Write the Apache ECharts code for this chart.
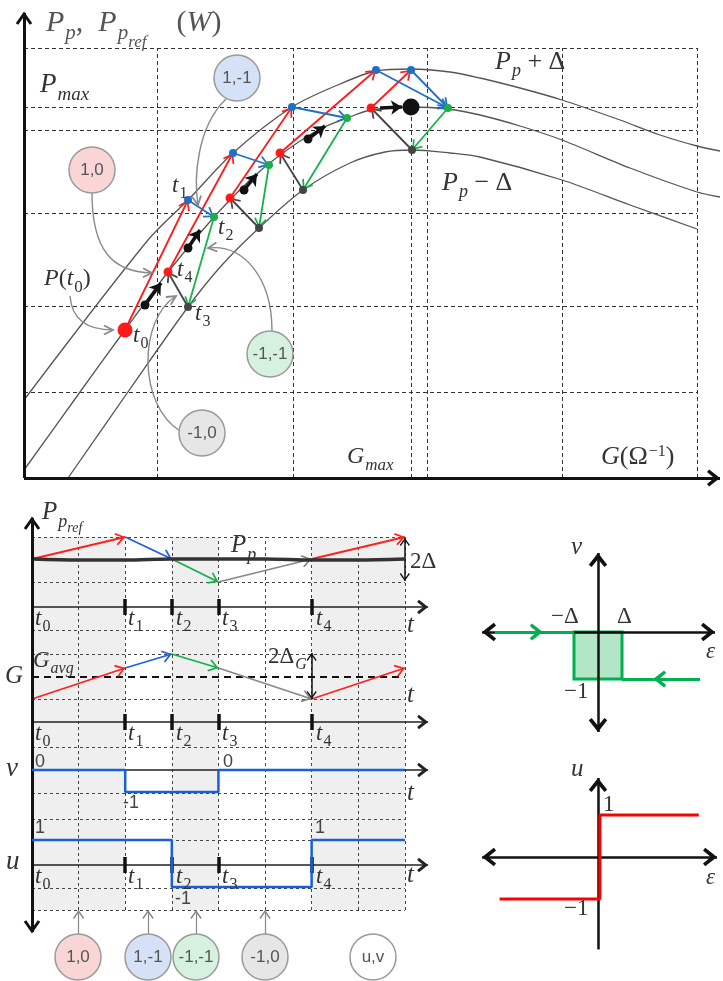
<!DOCTYPE html>
<html>
<head>
<meta charset="utf-8">
<script src="https://cdn.jsdelivr.net/npm/echarts@6/dist/echarts.min.js"></script>
<style>
  html, body { margin: 0; padding: 0; background: #fff; }
  #main { width: 723px; height: 981px; }
</style>
</head>
<body>
<div id="main"></div>
<script>
// ===== top panel : P(G) curves (arbitrary units G, P) =====
var curveUp = [[0,78],[124,238],[164,278],[209,325],[268,371],[316,394],[352,407],[387,409],[426,406],[456,400],[496,390],[538,378],[596,358],[636,343],[673,332],[696,327]];
var curveMid = [[0,8],[56,86],[101,148],[144,206],[190,261],[226,298],[256,323],[296,349],[323,360],[347,368],[387,371],[424,369],[456,363],[496,352],[538,338],[606,310],[673,286],[696,281]];
var curveLow = [[44,0],[106,89],[164,171],[198,213],[235,250],[279,288],[326,315],[361,326],[388,328],[426,325],[456,321],[538,298],[606,273],[673,249]];
var gridG = [133, 269, 403, 538, 673];
var gridP = [86, 172, 265, 348, 371, 430];
var gMax = 387;
// steps [G0, P0, G1, P1]
var stepRed = [[101,148,164,278],[144,206,209,325],[206,280,268,371],[256,325,352,408],[347,370,387,408]];
var stepBlue = [[164,278,190,261],[209,325,245,313],[268,371,323,360],[352,408,424,370],[387,408,424,370]];
var stepGreen = [[190,261,164,171],[245,313,235,250],[323,360,279,288],[424,370,388,328]];
var stepGray = [[164,171,144,206],[235,250,206,280],[279,288,256,325],[388,328,347,370]];
var stepBlack = [[121,173,137,195],[164,230,176,248],[220,288,233,304],[284,339,301,352],[356,370,378,371]];
var dotsBlue = [[164,278],[209,325],[268,371],[352,408],[387,408]];
var dotsGreen = [[190,261],[245,313],[323,360],[424,370]];
var dotsRed = [[144,206],[206,280],[256,325],[347,370]];
var dotsGray = [[164,171],[235,250],[279,288],[388,328]];
var dotsBlack = [[121,173],[164,230],[220,288],[284,339]];
var pStart = [[101,148]];
var pOpt = [[387,371]];

// ===== bottom-left : time diagrams (t in steps, y in rows) =====
var tGrid = [1, 2, 3, 4, 5, 6, 7, 8];
var tTicks = [2, 3, 4, 6];           // t1, t2, t3, t4
var rowLines = [25, 47, 95, 116, 142, 188, 236, 281, 305, 353, 398];
var shadeSpans = [[0, 2], [3, 4], [6, 8]];
var tAxes = [328, 213, 165, 70];
var tickAxes = [328, 213, 70];
var prefRed = [[0,376,2,398],[6,376,8,398]];
var prefBlue = [[2,398,3,376]];
var prefGreen = [[3,376,4,353]];
var prefGray = [[4,353,6,376]];
var ppLine = [[0,376],[1,375],[2,375],[3,376],[4,376],[5,376],[6,375],[7,375],[8,376]];
var gRed = [[0,236,2,267],[6,236,8,267]];
var gBlue = [[2,267,3,281]];
var gGreen = [[3,281,4,267]];
var gGray = [[4,267,6,236]];
var gAvg = 258;
var vStep = [[0,165],[2,165],[2,143],[4,143],[4,165],[8,165]];
var uStep = [[0,95],[3,95],[3,48],[6,48],[6,95],[8,95]];
var twoDelta = [[8,397,8,354]];
var twoDeltaG = [[6,282,6,236]];
var bubbleT = [1, 2.49, 3.52, 5];

// ===== right : hysteresis relay v(eps) and sign relay u(eps) =====
var vIn = [[-4.3,0,-2.3,0]], vInTail = [[-2.3,0,-1,0]];
var vBack = [[4.25,-1,2.3,-1]], vBackTail = [[2.3,-1,1,-1]];
var vBox = [-1, 1, 0, -1];
var uRelay = [[-4.1,-1],[0.08,-1],[0.08,1],[4.2,1]];

var chart = echarts.init(document.getElementById('main'));
// open arrow heads, tip at the centre of a square box
var BOX = 'M0,-10L0.01,-10L0,-9.99Z M-10,0L-9.99,0L-10,0.01Z M10,0L9.99,0L10,0.01Z';
var CHEV = 'path://M0,0L6.3,9L5,10.2L0,3L-5,10.2L-6.3,9Z ' + BOX;
var CHEVB = 'path://M0,0L6.6,8.4L4.6,10L0,4.4L-4.6,10L-6.6,8.4Z ' + BOX;

function segs(list) {
  return list.map(function (a) { return { coords: [[a[0], a[1]], [a[2], a[3]]] }; });
}
function lines(g, list, color, width, ends, size, dash, z) {
  return {
    type: 'lines', coordinateSystem: 'cartesian2d', xAxisIndex: g, yAxisIndex: g,
    data: segs(list), symbol: ends || 'none', symbolSize: size || 18, silent: true, clip: false,
    lineStyle: { color: color, width: width, type: dash || 'solid', opacity: 1 },
    z: z || 4, animation: false
  };
}
function dots(g, data, color, size, z) {
  return {
    type: 'scatter', xAxisIndex: g, yAxisIndex: g, data: data, symbolSize: size, clip: false,
    itemStyle: { color: color, opacity: 1 }, silent: true, z: z || 6
  };
}
function curve(g, data, color, width, z) {
  return {
    type: 'line', xAxisIndex: g, yAxisIndex: g, data: data, smooth: 0.3, showSymbol: false,
    lineStyle: { color: color, width: width }, silent: true, z: z || 3
  };
}

// grid line segment lists
var topDash = [];
gridG.forEach(function (x) { topDash.push([x, 0, x, 430]); });
gridP.forEach(function (y) { topDash.push([0, y, 673, y]); });
topDash.push([gMax, 0, gMax, 371]);

var blDash = [];
tGrid.forEach(function (t) { blDash.push([t, 25, t, 398]); });
rowLines.forEach(function (y) { blDash.push([0, y, 8, y]); });
var blAxes = tAxes.map(function (y) { return [0, y, 8.5, y]; });
var blTicks = [];
tickAxes.forEach(function (y) { tTicks.forEach(function (t) { blTicks.push([t, y - 8, t, y + 8]); }); });
var bubbleArrows = bubbleT.map(function (t) { return [t, 1, t, 25]; });

var series = [
  // ---- top ----
  lines(0, topDash, '#333', 1, 'none', 0, [4, 3], 2),
  curve(0, curveUp, '#555', 1.3),
  curve(0, curveMid, '#555', 1.3),
  curve(0, curveLow, '#555', 1.3),
  lines(0, stepRed, '#ff1a1a', 1.8, ['none', CHEV], 20),
  lines(0, stepBlue, '#1f6fc8', 1.8, ['none', CHEV], 20),
  lines(0, stepGreen, '#18b04a', 1.8, ['none', CHEV], 20),
  lines(0, stepGray, '#444', 1.8, ['none', CHEV], 20),
  lines(0, stepBlack, '#111', 3.5, ['none', 'arrow'], 11),
  lines(0, [[0, 0, 0, 465]], '#111', 3, 'none', 0, 'solid', 5),
  lines(0, [[0, 0, 696, 0]], '#111', 3, ['none', CHEVB], 26, 'solid', 5),
  dots(0, dotsBlue, '#1f6fc8', 8),
  dots(0, dotsGreen, '#18b04a', 8),
  dots(0, dotsRed, '#ff1a1a', 9),
  dots(0, dotsGray, '#444', 8),
  dots(0, dotsBlack, '#111', 9),
  dots(0, pStart, '#ff1a1a', 15),
  dots(0, pOpt, '#111', 17),
  // ---- bottom-left ----
  {
    type: 'line', xAxisIndex: 1, yAxisIndex: 1, data: [[0, 25]], showSymbol: false,
    lineStyle: { opacity: 0 }, silent: true, z: 1,
    markArea: {
      silent: true, itemStyle: { color: '#efefef' },
      data: shadeSpans.map(function (s) { return [{ coord: [s[0], 25] }, { coord: [s[1], 398] }]; })
    }
  },
  lines(1, blDash, '#444', 1, 'none', 0, [3, 3], 2),
  lines(1, blAxes, '#222', 1.6, ['none', CHEVB], 22, 'solid', 3),
  lines(1, blTicks, '#111', 3.5, 'none', 0, 'solid', 5),
  lines(1, [[0, 3, 0, 417]], '#111', 3, 'none', 0, 'solid', 5),
  curve(1, ppLine, '#333', 3.5, 4),
  lines(1, [[0, gAvg, 8, gAvg]], '#111', 2, 'none', 0, [7, 5], 4),
  lines(1, prefRed, '#ff2020', 1.8, ['none', CHEV], 20),
  lines(1, prefBlue, '#1f5fe0', 1.8, ['none', CHEV], 20),
  lines(1, prefGreen, '#15b048', 1.8, ['none', CHEV], 20),
  lines(1, prefGray, '#888', 1.8, ['none', CHEV], 20),
  lines(1, gRed, '#ff2020', 1.8, ['none', CHEV], 20),
  lines(1, gBlue, '#1f5fe0', 1.8, ['none', CHEV], 20),
  lines(1, gGreen, '#15b048', 1.8, ['none', CHEV], 20),
  lines(1, gGray, '#888', 1.8, ['none', CHEV], 20),
  lines(1, twoDelta, '#111', 1.5, [CHEV, CHEV], 16),
  lines(1, twoDeltaG, '#111', 1.5, [CHEV, CHEV], 16),
  lines(1, bubbleArrows, '#888', 1.2, ['none', CHEV], 18),
  {
    type: 'line', xAxisIndex: 1, yAxisIndex: 1, data: vStep, showSymbol: false,
    lineStyle: { color: '#1a5fd8', width: 2.5 }, silent: true, z: 6
  },
  {
    type: 'line', xAxisIndex: 1, yAxisIndex: 1, data: uStep, showSymbol: false,
    lineStyle: { color: '#1a5fd8', width: 2.5 }, silent: true, z: 6
  },
  // ---- right v(eps) ----
  {
    type: 'line', xAxisIndex: 2, yAxisIndex: 2, data: [[0, 0]], showSymbol: false,
    lineStyle: { opacity: 0 }, silent: true, z: 2,
    markArea: {
      silent: true,
      itemStyle: { color: '#b3e6c6', borderColor: '#00b050', borderWidth: 3 },
      data: [[{ coord: [vBox[0], vBox[2]] }, { coord: [vBox[1], vBox[3]] }]]
    }
  },
  lines(2, [[-4.83, 0, 4.875, 0], [0, -2.128, 0, 1.681]], '#111', 2.5, [CHEVB, CHEVB], 28, 'solid', 3),
  lines(2, vIn, '#00b050', 3, ['none', CHEVB], 26, 'solid', 5),
  lines(2, vInTail, '#00b050', 3, 'none', 0, 'solid', 5),
  lines(2, vBack, '#00b050', 3, ['none', CHEVB], 26, 'solid', 5),
  lines(2, vBackTail, '#00b050', 3, 'none', 0, 'solid', 5),
  // ---- right u(eps) ----
  lines(3, [[-4.83, 0, 4.958, 0]], '#111', 2.5, [CHEVB, CHEVB], 28, 'solid', 3),
  lines(3, [[0, -2.2, 0, 1.881]], '#111', 2.5, ['none', CHEVB], 28, 'solid', 3),
  {
    type: 'line', xAxisIndex: 3, yAxisIndex: 3, data: uRelay, showSymbol: false,
    lineStyle: { color: '#ff0000', width: 3 }, silent: true, z: 5
  }
];

// ---- text helpers ----
var SERIF = 'Liberation Serif';
var TXT = '#333';
function mrich(S, col) {
  col = col || TXT;
  return {
    i: { fontFamily: SERIF, fontStyle: 'italic', fontSize: S, lineHeight: S + 2, verticalAlign: 'top', fill: col },
    r: { fontFamily: SERIF, fontSize: S, lineHeight: S + 2, verticalAlign: 'top', fill: col },
    s: { fontFamily: SERIF, fontStyle: 'italic', fontSize: Math.round(S * 0.7), lineHeight: Math.round(S * 0.7), padding: [Math.round(S * 0.5), 0, 0, 1], verticalAlign: 'top', fill: col },
    rs: { fontFamily: SERIF, fontSize: Math.round(S * 0.7), lineHeight: Math.round(S * 0.7), padding: [Math.round(S * 0.5), 0, 0, 1], verticalAlign: 'top', fill: col },
    ss: { fontFamily: SERIF, fontStyle: 'italic', fontSize: Math.round(S * 0.58), lineHeight: Math.round(S * 0.58), padding: [Math.round(S * 0.85), 0, 0, 0], verticalAlign: 'top', fill: col },
    sup: { fontFamily: SERIF, fontSize: Math.round(S * 0.6), lineHeight: Math.round(S * 0.6), padding: [0, 0, 0, 1], verticalAlign: 'top', fill: col }
  };
}
function M(x, y, text, S, col) {
  return { type: 'text', x: x, y: y, z: 100, silent: true,
    style: { text: text, rich: mrich(S, col), textAlign: 'left', textVerticalAlign: 'top' } };
}
function sans(x, y, text, size, col) {
  return { type: 'text', x: x, y: y, z: 100, silent: true,
    style: { text: text, fontFamily: 'Liberation Sans', fontSize: size, fill: col || '#444', textAlign: 'center', textVerticalAlign: 'middle' } };
}
function bubble(cx, cy, fill, label) {
  return [
    { type: 'circle', z: 90, silent: true, shape: { cx: cx, cy: cy, r: 23 }, style: { fill: fill, stroke: '#9a9a9a', lineWidth: 1.5 } },
    sans(cx, cy, label, 17, '#555')
  ];
}
function head(x, y, dir) {
  // open axis arrow head, dir = 1 pointing up, -1 pointing down
  return { type: 'polyline', z: 95, silent: true,
    shape: { points: [[x - 7, y + 10 * dir], [x, y], [x + 7, y + 10 * dir]] },
    style: { stroke: '#111', lineWidth: 3, fill: null, lineJoin: 'miter' } };
}
function curvedArrow(p0, c1, c2, p1) {
  var dx = p1[0] - c2[0], dy = p1[1] - c2[1], L = Math.sqrt(dx * dx + dy * dy);
  dx /= L; dy /= L;
  var a = 9, w = 4.5;
  var b1 = [p1[0] - dx * a - dy * w, p1[1] - dy * a + dx * w];
  var b2 = [p1[0] - dx * a + dy * w, p1[1] - dy * a - dx * w];
  return [
    { type: 'bezierCurve', z: 80, silent: true,
      shape: { x1: p0[0], y1: p0[1], cpx1: c1[0], cpy1: c1[1], cpx2: c2[0], cpy2: c2[1], x2: p1[0], y2: p1[1] },
      style: { stroke: '#8a8a8a', lineWidth: 1.4, fill: null } },
    { type: 'polyline', z: 80, silent: true, shape: { points: [b1, p1, b2] },
      style: { stroke: '#8a8a8a', lineWidth: 1.8, fill: null } }
  ];
}

var graphics = [].concat(
  head(24, 14, 1), head(32, 519, 1), head(32, 931, -1),
  // top panel texts
  M(46, 8, '{i|P}{s|p}{r|,  }{i|P}{s|p}{ss|ref}{r|    (}{i|W}{r|)}', 30, '#555'),
  M(40, 71, '{i|P}{s|max}', 27),
  M(495, 49, '{i|P}{s|p}{r| + Δ}', 26),
  M(442, 170, '{i|P}{s|p}{r| − Δ}', 26),
  M(347, 445, '{i|G}{s|max}', 24),
  M(601, 444, '{i|G}{r|(Ω}{sup|−1}{r|)}', 26),
  M(44, 267, '{i|P}{r|(}{i|t}{rs|0}{r|)}', 24),
  M(133, 324, '{i|t}{rs|0}', 23),
  M(172, 174, '{i|t}{rs|1}', 23),
  M(218, 216, '{i|t}{rs|2}', 23),
  M(195, 302, '{i|t}{rs|3}', 23),
  M(177, 258, '{i|t}{rs|4}', 23),
  bubble(92, 170, '#f9d5d5', '1,0'),
  bubble(237, 78, '#d5e1f6', '1,-1'),
  bubble(270, 354, '#d6f1de', '-1,-1'),
  bubble(202, 433, '#e6e6e6', '-1,0'),
  curvedArrow([92, 193], [92, 250], [112, 272], [152, 273]),
  curvedArrow([226, 99], [196, 128], [194, 180], [198, 205]),
  curvedArrow([272, 331], [272, 278], [244, 244], [208, 248]),
  curvedArrow([180, 431], [138, 405], [138, 320], [176, 296]),
  curvedArrow([70, 296], [72, 322], [90, 330], [113, 330]),
  // bottom-left texts
  M(42, 500, '{i|P}{s|p}{ss|ref}', 25),
  M(231, 533, '{i|P}{s|p}', 25),
  M(410, 550, '{r|2Δ}', 23),
  M(33, 649, '{i|G}{s|avg}', 23),
  M(5, 664, '{i|G}', 25),
  M(268, 645, '{r|2Δ}{s|G}', 23),
  M(407, 613, '{i|t}', 25),
  M(407, 683, '{i|t}', 25),
  M(407, 781, '{i|t}', 25),
  M(407, 863, '{i|t}', 25),
  M(6, 755, '{i|v}', 27),
  M(6, 848, '{i|u}', 27),
  sans(40, 762, '0', 18), sans(228, 762, '0', 18),
  sans(131, 803, '-1', 18),
  sans(40, 828, '1', 18), sans(320, 828, '1', 18),
  sans(183, 899, '-1', 18),
  bubble(78, 957, '#f9d5d5', '1,0'),
  bubble(148, 957, '#d5e1f6', '1,-1'),
  bubble(196, 957, '#d6f1de', '-1,-1'),
  bubble(265, 957, '#e6e6e6', '-1,0'),
  bubble(373, 957, '#ffffff', 'u,v'),
  // right texts
  M(571, 535, '{i|v}', 25),
  M(551, 605, '{r|−Δ}', 23),
  M(617, 605, '{r|Δ}', 23),
  M(706, 640, '{i|ε}', 23),
  M(564, 680, '{r|−1}', 23),
  M(571, 757, '{i|u}', 25),
  M(603, 793, '{r|1}', 23),
  M(564, 897, '{r|−1}', 23),
  M(706, 866, '{i|ε}', 23)
);
[607, 722, 865].forEach(function (y) {
  [[35, '0'], [128, '1'], [176, '2'], [222, '3'], [316, '4']].forEach(function (c) {
    graphics.push(M(c[0], y, '{i|t}{rs|' + c[1] + '}', 23));
  });
});

var option = {
  animation: false,
  backgroundColor: '#fff',
  grid: [
    { left: 4, top: 13, width: 716, height: 465 },
    { left: 12, top: 515, width: 418, height: 420 },
    { left: 482, top: 553, width: 233, height: 179 },
    { left: 482, top: 778, width: 235, height: 172 }
  ],
  xAxis: [
    { type: 'value', gridIndex: 0, min: -20, max: 696, show: false },
    { type: 'value', gridIndex: 1, min: -0.42918, max: 8.54, show: false },
    { type: 'value', gridIndex: 2, min: -4.833, max: 4.875, show: false },
    { type: 'value', gridIndex: 3, min: -4.833, max: 4.958, show: false }
  ],
  yAxis: [
    { type: 'value', gridIndex: 0, min: 0, max: 465, show: false },
    { type: 'value', gridIndex: 1, min: 0, max: 420, show: false },
    { type: 'value', gridIndex: 2, min: -2.128, max: 1.681, show: false },
    { type: 'value', gridIndex: 3, min: -2.214, max: 1.881, show: false }
  ],
  series: series,
  graphic: graphics
};
chart.setOption(option);
</script>
</body>
</html>
